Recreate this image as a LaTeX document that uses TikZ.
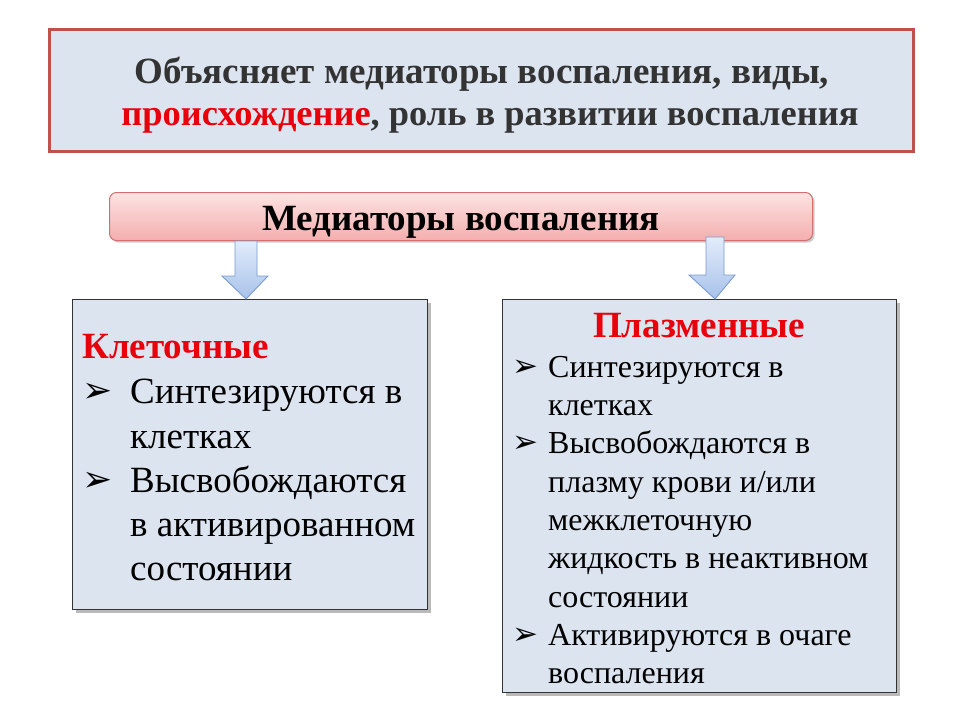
\documentclass[tikz,border=0pt]{standalone}
\usepackage{fontspec}
\setmainfont{Liberation Serif}
\newfontfamily\symfont{DejaVu Sans}
\usetikzlibrary{calc,shadows}
\definecolor{boxfill}{HTML}{DCE4EF}
\definecolor{titleborder}{HTML}{C0504D}
\definecolor{titletext}{HTML}{333333}
\definecolor{redtext}{HTML}{E8000B}
\definecolor{pinktop}{HTML}{FDE3E3}
\definecolor{pinkbot}{HTML}{F4AEAE}
\definecolor{pinkborder}{HTML}{D07070}
\definecolor{arrtop}{HTML}{E2ECFA}
\definecolor{arrbot}{HTML}{A8C2EA}
\definecolor{arrborder}{HTML}{7A9BD0}
\tikzset{
  panel/.style={draw=black!80, line width=1.2pt, fill=boxfill, anchor=north west, inner sep=0,
     drop shadow={shadow xshift=3pt, shadow yshift=-3pt, fill=black!45, opacity=0.6}},
  titlefont/.style={font=\bfseries\fontsize{37}{42}\selectfont, text=titletext, inner sep=0, anchor=base},
  headL/.style={font=\bfseries\fontsize{37}{42}\selectfont, text=redtext, inner sep=0},
  bodyL/.style={font=\fontsize{37}{44}\selectfont, inner sep=0, anchor=base west},
  bodyR/.style={font=\fontsize{32}{38}\selectfont, inner sep=0, anchor=base west},
  bulL/.style={font=\symfont\fontsize{36}{38}\selectfont, inner sep=0, anchor=base west},
  bulR/.style={font=\symfont\fontsize{31}{33}\selectfont, inner sep=0, anchor=base west},
  blockarrow/.style={draw=arrborder, line width=0.9pt, top color=arrtop, bottom color=arrbot, line join=miter}
}
\begin{document}
\begin{tikzpicture}[x=1pt,y=-1pt]
\useasboundingbox (0,0) rectangle (960,720);
\fill[white] (0,0) rectangle (960,720);

% title box
\node[draw=titleborder, line width=2.5pt, fill=boxfill, minimum width=864pt, minimum height=122pt,
  anchor=north west, inner sep=0,
  drop shadow={shadow xshift=2pt, shadow yshift=-2pt, fill=black!30, opacity=0.5}] (title) at (48,28) {};
\node[titlefont] (t1) at (482,83) {Объясняет медиаторы воспаления, виды,};
\node[titlefont, font=\bfseries\fontsize{36.4}{42}\selectfont] (t2) at (490,125) {\textcolor{redtext}{происхождение}, роль в развитии воспаления};

% mediators box
\node[draw=pinkborder, line width=1pt, rounded corners=7pt, top color=pinktop, bottom color=pinkbot,
  minimum width=703pt, minimum height=48pt, anchor=north west, inner sep=0,
  drop shadow={shadow xshift=2pt, shadow yshift=-2pt, fill=black!40, opacity=0.5}] (med) at (109,192) {};
\node[font=\bfseries\fontsize{37}{42}\selectfont, inner sep=0, anchor=base] (medt) at (461,230) {Медиаторы воспаления};

% panels
\node[panel, minimum width=355pt, minimum height=310pt] (left) at (72,299) {};
\node[panel, minimum width=394pt, minimum height=393pt] (right) at (502,299) {};

% arrows
\coordinate (la) at ($(med.south west)+(137,0)$);
\coordinate (ra) at ($(med.south west)+(606,-4)$);
\draw[blockarrow] ($(la)+(-11,0)$) -- ($(la)+(11,0)$) -- ($(la)+(11,35)$) -- ($(la)+(22,35)$)
   -- ($(la)+(0,58)$) -- ($(la)+(-24,35)$) -- ($(la)+(-11,35)$) -- cycle;
\draw[blockarrow] ($(ra)+(-9,0)$) -- ($(ra)+(9,0)$) -- ($(ra)+(9,38)$) -- ($(ra)+(20,38)$)
   -- ($(ra)+(0,62)$) -- ($(ra)+(-26,38)$) -- ($(ra)+(-9,38)$) -- cycle;

% left content
\node[headL, anchor=base west] (lh) at (82,358) {Клеточные};
\node[bulL] (lb1) at (82,402) {➢};
\node[bodyL] (l1) at (130,403) {Синтезируются в};
\node[bodyL] (l2) at (130,448) {клетках};
\node[bulL] (lb2) at (82,491) {➢};
\node[bodyL] (l3) at (130,492) {Высвобождаются};
\node[bodyL] (l4) at (130,536) {в активированном};
\node[bodyL] (l5) at (130,580) {состоянии};

% right content
\node[headL, anchor=base] (rh) at (699,337) {Плазменные};
\node[bulR] (rb1) at (512,376) {➢};
\node[bodyR] (r1) at (548,377) {Синтезируются в};
\node[bodyR] (r2) at (548,415) {клетках};
\node[bulR] (rb2) at (512,452) {➢};
\node[bodyR] (r3) at (548,453) {Высвобождаются в};
\node[bodyR] (r4) at (548,492) {плазму крови и/или};
\node[bodyR] (r5) at (548,530) {межклеточную};
\node[bodyR] (r6) at (548,568) {жидкость в неактивном};
\node[bodyR] (r7) at (548,607) {состоянии};
\node[bulR] (rb3) at (512,644) {➢};
\node[bodyR] (r8) at (548,645) {Активируются в очаге};
\node[bodyR] (r9) at (548,683) {воспаления};
\end{tikzpicture}
\end{document}
